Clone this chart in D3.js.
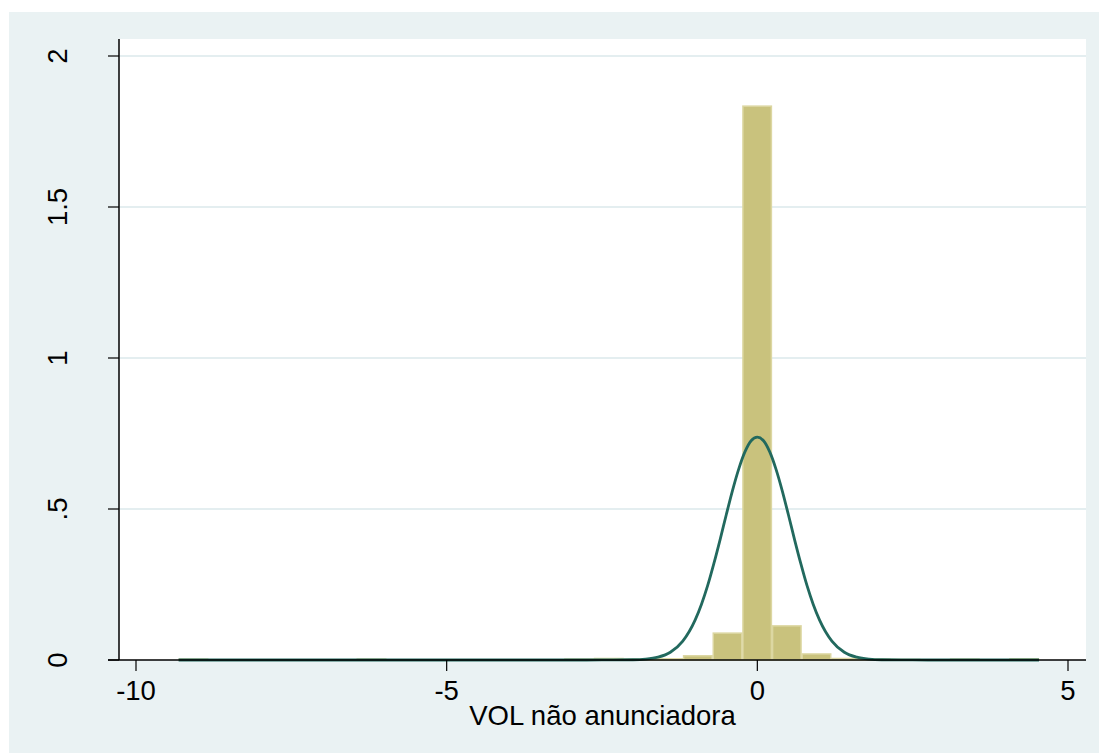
<!DOCTYPE html>
<html>
<head>
<meta charset="utf-8">
<script src="https://cdn.jsdelivr.net/npm/d3@7"></script>
<style>
  body { margin: 0; background: #fff; }
  svg { display: block; font-family: "Liberation Sans", Arial, sans-serif; }
</style>
</head>
<body>
<div id="chart"></div>
<script>
// Histogramme : densité par classe (29 classes de même largeur)
const binStart = -9.314;
const binWidth = 0.4775;
const densities = [
  0.003, 0, 0, 0, 0, 0, 0.003, 0, 0, 0,
  0, 0, 0, 0.003, 0.005, 0.003, 0.004, 0.014, 0.089, 1.834,
  0.113, 0.020, 0.005, 0.003, 0.002, 0, 0.003, 0, 0.004
];

// Courbe normale superposée
const curveX = [-9.314, -4, -3, -2.5, -2, -1.8, -1.6, -1.4, -1.2, -1, -0.9, -0.8, -0.7, -0.6, -0.5, -0.4, -0.3, -0.2, -0.1, 0,
                0.1, 0.2, 0.3, 0.4, 0.5, 0.6, 0.7, 0.8, 0.9, 1, 1.2, 1.4, 1.6, 1.8, 2, 2.5, 3, 4.533];
const curveY = [0, 0, 0, 0.0001, 0.0008, 0.0028, 0.0092, 0.0256, 0.0625, 0.133, 0.184, 0.246, 0.319, 0.398, 0.481, 0.561, 0.632, 0.689, 0.726, 0.738,
                0.726, 0.689, 0.632, 0.561, 0.481, 0.398, 0.319, 0.246, 0.184, 0.133, 0.0625, 0.0256, 0.0092, 0.0028, 0.0008, 0.0001, 0, 0];

// Graduations
const xTicks = [-10, -5, 0, 5];
const yTicks = [0, 0.5, 1, 1.5, 2];
const yTickLabels = ["0", ".5", "1", "1.5", "2"];
const xTitle = "VOL não anunciadora";

(function() {
    const width = 1099, height = 754;
    const plot = { left: 119, right: 1086, top: 39, bottom: 660 };
    const fontSize = 27.5;

    const svg = d3.select("#chart").append("svg")
        .attr("width", width)
        .attr("height", height);

    // Fond extérieur
    svg.append("rect")
        .attr("x", 9).attr("y", 12)
        .attr("width", width - 9).attr("height", height - 13)
        .attr("fill", "#eaf2f3");

    // Zone du graphique
    svg.append("rect")
        .attr("x", plot.left).attr("y", plot.top)
        .attr("width", plot.right - plot.left).attr("height", plot.bottom - plot.top)
        .attr("fill", "#ffffff");

    const x = d3.scaleLinear().domain([-10, 5]).range([136, 1068]);
    const y = d3.scaleLinear().domain([0, 2]).range([plot.bottom, 56]);

    // Grille horizontale
    svg.append("g")
        .selectAll("line")
        .data(yTicks.filter(d => d > 0))
        .join("line")
        .attr("x1", plot.left).attr("x2", plot.right)
        .attr("y1", d => y(d)).attr("y2", d => y(d))
        .attr("stroke", "#e4eef0")
        .attr("stroke-width", 2);

    // Barres
    svg.append("g")
        .selectAll("rect")
        .data(densities)
        .join("rect")
        .attr("x", (d, i) => x(binStart + i * binWidth) + 0.6)
        .attr("width", x(binStart + binWidth) - x(binStart) - 1.2)
        .attr("y", d => y(d))
        .attr("height", d => y(0) - y(d))
        .attr("fill", "#c9c27d")
        .attr("stroke", "#dcd7a2")
        .attr("stroke-width", 1.5)
        .attr("display", d => d > 0 ? null : "none");

    // Courbe normale
    const line = d3.line()
        .x(d => x(d[0]))
        .y(d => y(d[1]))
        .curve(d3.curveMonotoneX);

    svg.append("path")
        .datum(curveX.map((v, i) => [v, curveY[i]]))
        .attr("d", line)
        .attr("fill", "none")
        .attr("stroke", "#22695e")
        .attr("stroke-width", 2.8);

    // Axe X
    const xAxis = svg.append("g");
    xAxis.append("line")
        .attr("x1", 108).attr("x2", plot.right)
        .attr("y1", plot.bottom).attr("y2", plot.bottom)
        .attr("stroke", "#000").attr("stroke-width", 1.5);
    xAxis.selectAll(".tick")
        .data(xTicks)
        .join("line")
        .attr("x1", d => x(d)).attr("x2", d => x(d))
        .attr("y1", plot.bottom).attr("y2", plot.bottom + 11)
        .attr("stroke", "#000").attr("stroke-width", 1.2);
    xAxis.selectAll("text")
        .data(xTicks)
        .join("text")
        .attr("x", d => x(d))
        .attr("y", 700)
        .attr("text-anchor", "middle")
        .attr("font-size", fontSize)
        .text(d => d);

    // Axe Y
    const yAxis = svg.append("g");
    yAxis.append("line")
        .attr("x1", plot.left).attr("x2", plot.left)
        .attr("y1", plot.top).attr("y2", plot.bottom)
        .attr("stroke", "#000").attr("stroke-width", 1.5);
    yAxis.selectAll(".tick")
        .data(yTicks)
        .join("line")
        .attr("x1", plot.left - 11).attr("x2", plot.left)
        .attr("y1", d => y(d)).attr("y2", d => y(d))
        .attr("stroke", "#000").attr("stroke-width", 1.2);
    yAxis.selectAll("text")
        .data(yTicks)
        .join("text")
        .attr("transform", d => `translate(67,${y(d)}) rotate(-90)`)
        .attr("text-anchor", "middle")
        .attr("font-size", fontSize)
        .text((d, i) => yTickLabels[i]);

    // Titre de l'axe X
    svg.append("text")
        .attr("x", (plot.left + plot.right) / 2)
        .attr("y", 725)
        .attr("text-anchor", "middle")
        .attr("font-size", fontSize)
        .text(xTitle);
})();
</script>
</body>
</html>
